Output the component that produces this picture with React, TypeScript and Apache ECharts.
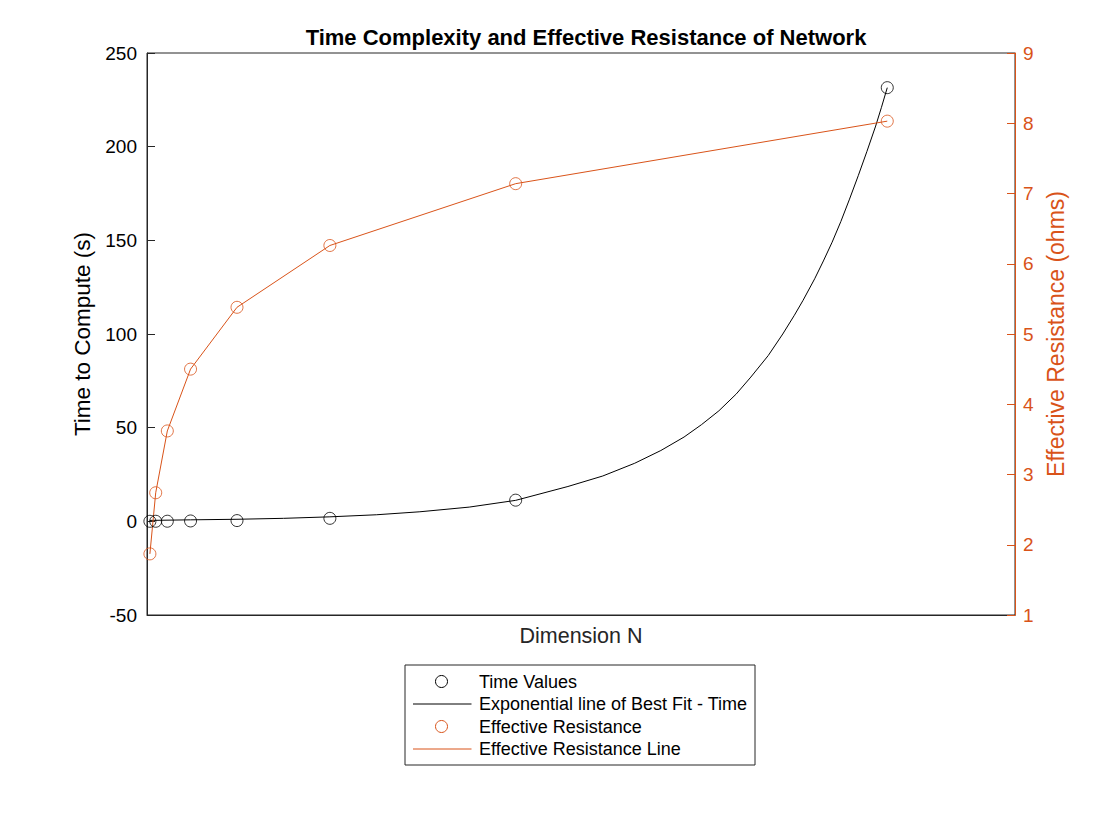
import React, { useEffect, useRef } from "react";
import * as echarts from "echarts";

const dimensions = [2, 4, 8, 16, 32, 64, 128, 256];
const timeValues = [0.02, 0.03, 0.06, 0.2, 0.4, 1.6, 11.3, 231.5];
const fitX = [2, 16, 32, 48, 64, 80, 95, 112, 128, 146, 158, 169, 178, 186, 192, 198, 204, 209, 215, 220, 224, 227, 231, 234, 237, 240, 243, 246, 249, 252, 254, 256];
const fitY = [0.5, 0.8, 1.1, 1.6, 2.4, 3.5, 5.1, 7.6, 11.2, 18.6, 24.2, 31, 37.8, 45, 51.6, 59, 68, 77, 88.5, 100, 110, 118, 129.5, 139, 149, 160, 172, 184.5, 197.5, 211, 221, 231.5];
const resistance = [1.87, 2.74, 3.62, 4.5, 5.38, 6.26, 7.14, 8.03];
const leftTicks = [-50, 0, 50, 100, 150, 200, 250];
const legendNames = [
  "Time Values",
  "Exponential line of Best Fit - Time",
  "Effective Resistance",
  "Effective Resistance Line",
];

const ORANGE = "#D95319";
const DARK = "#262626";
const FONT = "'Liberation Sans', Arial, Helvetica, sans-serif";

export default function App() {
  const ref = useRef<HTMLDivElement>(null);
  useEffect(() => {
    if (!ref.current) return;
    const chart = echarts.init(ref.current, undefined, { renderer: "svg" });
    const legendX = 405;
    const legendY = 665;
    const rowY = [681.5, 704, 726.5, 749];
    const legendColors = ["#000", "#000", ORANGE, ORANGE];
    const legendGraphics: any[] = [
      {
        type: "rect",
        shape: { x: legendX, y: legendY, width: 350, height: 100 },
        style: { fill: "#fff", stroke: DARK, lineWidth: 1 },
        z: 10,
      },
    ];
    legendNames.forEach((name, i) => {
      if (i % 2 === 0) {
        legendGraphics.push({
          type: "circle",
          shape: { cx: 441.5, cy: rowY[i], r: 6 },
          style: { fill: "none", stroke: legendColors[i], lineWidth: 1 },
          z: 11,
        });
      } else {
        legendGraphics.push({
          type: "line",
          shape: { x1: 413, y1: rowY[i], x2: 471.5, y2: rowY[i] },
          style: { stroke: legendColors[i], lineWidth: 1 },
          z: 11,
        });
      }
      legendGraphics.push({
        type: "text",
        x: 479,
        y: rowY[i],
        style: {
          text: name,
          fill: "#000",
          font: `18px ${FONT}`,
          verticalAlign: "middle",
          align: "left",
        },
        z: 11,
      });
    });

    chart.setOption({
      animation: false,
      backgroundColor: "#fff",
      textStyle: { fontFamily: FONT },
      title: {
        text: "Time Complexity and Effective Resistance of Network",
        left: 581,
        textAlign: "center",
        top: 21,
        textStyle: { fontFamily: FONT, fontSize: 22, fontWeight: "bold", color: "#000" },
      },
      grid: {
        left: 147,
        top: 53,
        width: 868,
        height: 562,
        show: true,
        borderColor: DARK,
        borderWidth: 1,
        backgroundColor: "transparent",
      },
      xAxis: {
        type: "value",
        min: 1,
        max: 300,
        name: "Dimension N",
        nameLocation: "middle",
        nameGap: 10,
        nameTextStyle: { fontFamily: FONT, fontSize: 21.5, color: DARK },
        axisLine: { show: true, onZero: false, lineStyle: { color: DARK, width: 1 } },
        axisTick: { show: false },
        axisLabel: { show: false },
        splitLine: { show: false },
      },
      yAxis: [
        {
          type: "value",
          min: -50,
          max: 250,
          interval: 50,
          position: "left",
          name: "Time to Compute (s)",
          nameLocation: "middle",
          nameRotate: 90,
          nameGap: 42,
          nameTextStyle: { fontFamily: FONT, fontSize: 22.5, color: "#000" },
          axisLine: { show: true, onZero: false, lineStyle: { color: DARK, width: 1 } },
          axisTick: { show: true, inside: true, length: 8, lineStyle: { color: DARK } },
          axisLabel: {
            margin: 10,
            fontFamily: FONT,
            fontSize: 19,
            color: "#000",
            customValues: leftTicks,
          },
          splitLine: { show: false },
        },
        {
          type: "value",
          min: 1,
          max: 9,
          interval: 1,
          position: "right",
          name: "Effective Resistance (ohms)",
          nameLocation: "middle",
          nameRotate: 90,
          nameGap: 26,
          nameTextStyle: { fontFamily: FONT, fontSize: 23, color: ORANGE },
          axisLine: { show: true, onZero: false, lineStyle: { color: ORANGE, width: 1 } },
          axisTick: { show: true, inside: true, length: 8, lineStyle: { color: ORANGE } },
          axisLabel: { margin: 8, fontFamily: FONT, fontSize: 19, color: ORANGE },
          splitLine: { show: false },
        },
      ],
      series: [
        {
          name: legendNames[1],
          type: "line",
          yAxisIndex: 0,
          data: fitX.map((x, i) => [x, fitY[i]]),
          showSymbol: false,
          smooth: false,
          lineStyle: { color: "#000", width: 1 },
          clip: false,
          z: 2,
        },
        {
          name: legendNames[0],
          type: "scatter",
          yAxisIndex: 0,
          data: dimensions.map((x, i) => [x, timeValues[i]]),
          symbol: "circle",
          symbolSize: 12,
          itemStyle: { color: "transparent", borderColor: "#000", borderWidth: 1 },
          clip: false,
          z: 3,
        },
        {
          name: legendNames[3],
          type: "line",
          yAxisIndex: 1,
          data: dimensions.map((x, i) => [x, resistance[i]]),
          showSymbol: false,
          lineStyle: { color: ORANGE, width: 1 },
          clip: false,
          z: 2,
        },
        {
          name: legendNames[2],
          type: "scatter",
          yAxisIndex: 1,
          data: dimensions.map((x, i) => [x, resistance[i]]),
          symbol: "circle",
          symbolSize: 12,
          itemStyle: { color: "transparent", borderColor: ORANGE, borderWidth: 1 },
          clip: false,
          z: 3,
        },
      ],
      graphic: legendGraphics,
    });
    return () => chart.dispose();
  }, []);
  return (
    <div
      ref={ref}
      style={{ position: "absolute", left: 0, top: 0, width: 1120, height: 840 }}
    />
  );
}
